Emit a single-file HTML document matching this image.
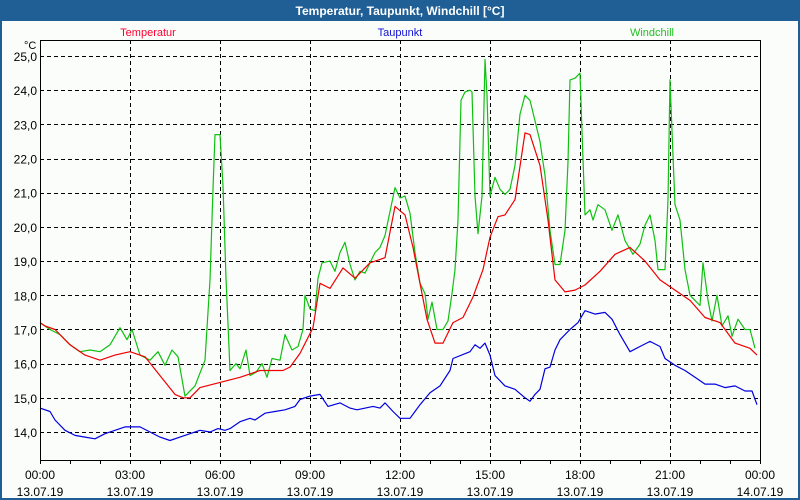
<!DOCTYPE html>
<html><head><meta charset="utf-8"><style>
body{margin:0;background:#fff;}
#wrap{width:800px;height:500px;position:relative;overflow:hidden;}
svg text{font-family:"Liberation Sans",sans-serif;}
</style></head><body>
<div id="wrap">
<svg id="chart" width="800" height="500" xmlns="http://www.w3.org/2000/svg">
<rect x="0" y="0" width="800" height="500" fill="#1f5f95"/>
<rect x="2" y="21" width="796" height="477" fill="#fbfdfb"/>
<text x="400" y="15" text-anchor="middle" fill="#fff" font-size="12" font-weight="bold">Temperatur, Taupunkt, Windchill [°C]</text>
<text x="148" y="36" text-anchor="middle" fill="#ff0030" font-size="11">Temperatur</text>
<text x="400" y="36" text-anchor="middle" fill="#1010d0" font-size="11">Taupunkt</text>
<text x="652" y="36" text-anchor="middle" fill="#20c020" font-size="11">Windchill</text>
<text x="24" y="49" font-size="11" fill="#000">°C</text>
<g id="grid"></g>
<g id="series"></g>
<rect x="40.5" y="40.5" width="720" height="420" fill="none" stroke="#000" stroke-width="1"/>
<g id="axes"></g>
</svg>
</div>
<script>
const yTicks=[14,15,16,17,18,19,20,21,22,23,24,25];
const xTickMinutes=[0,180,360,540,720,900,1080,1260,1440];
const xTickTimes=["00:00","03:00","06:00","09:00","12:00","15:00","18:00","21:00","00:00"];
const xTickDates=["13.07.19","13.07.19","13.07.19","13.07.19","13.07.19","13.07.19","13.07.19","13.07.19","14.07.19"];

const tempMinutes=[0,10,30,60,90,120,150,180,210,240,270,286,300,320,360,400,440,486,500,520,546,560,580,606,630,660,690,710,730,746,774,790,806,826,846,866,886,900,916,930,950,970,980,1000,1016,1030,1050,1070,1090,1120,1150,1180,1210,1240,1270,1300,1330,1360,1390,1420,1434];
const tempValues=[17.2,17.1,17.0,16.55,16.25,16.1,16.25,16.35,16.2,15.65,15.1,15.0,15.0,15.3,15.45,15.6,15.8,15.8,15.9,16.3,17.05,18.35,18.2,18.8,18.5,18.95,19.1,20.6,20.35,19.4,17.3,16.6,16.6,17.2,17.35,17.95,18.75,19.7,20.3,20.35,20.8,22.75,22.7,21.8,20.2,18.45,18.1,18.15,18.3,18.7,19.2,19.4,19.0,18.45,18.15,17.85,17.35,17.2,16.6,16.45,16.25];

const wcMinutes=[0,20,40,60,80,100,120,140,160,174,184,200,220,236,250,264,276,290,310,330,340,346,350,360,366,372,380,392,400,412,420,432,444,454,464,480,490,504,516,526,530,540,550,556,564,580,590,600,610,620,630,640,650,670,680,690,710,720,730,740,750,760,770,776,784,794,806,816,824,830,836,842,850,860,864,870,876,884,890,894,900,910,920,930,940,950,960,970,980,990,1000,1010,1020,1030,1040,1050,1056,1060,1070,1080,1084,1090,1100,1106,1116,1130,1144,1156,1170,1186,1200,1210,1220,1230,1236,1250,1256,1260,1264,1270,1280,1290,1300,1310,1320,1326,1336,1344,1354,1364,1376,1384,1396,1410,1420,1430];
const wcValues=[17.2,17.0,16.85,16.55,16.35,16.4,16.35,16.55,17.05,16.7,17.0,16.25,16.1,16.35,15.95,16.4,16.2,15.05,15.35,16.1,18.45,21.1,22.7,22.7,21.2,18.5,15.8,16.0,15.85,16.4,15.65,15.75,16.0,15.6,16.15,16.1,16.85,16.4,16.5,17.0,18.0,17.6,17.55,18.5,18.95,19.0,18.7,19.25,19.55,18.9,18.45,18.7,18.65,19.25,19.4,19.75,21.15,20.85,20.9,20.4,19.25,18.35,18.05,17.3,17.8,17.0,17.0,17.25,18.05,18.75,20.2,23.7,23.95,24.0,23.95,20.9,19.8,20.9,24.9,23.85,20.9,21.45,21.1,20.95,21.1,21.8,23.3,23.85,23.7,23.1,22.5,21.5,19.9,18.9,18.9,19.9,21.9,24.3,24.35,24.5,22.8,20.35,20.5,20.2,20.65,20.5,19.9,20.35,19.6,19.2,19.5,20.05,20.35,19.6,18.75,18.75,20.8,24.3,22.8,20.65,20.2,18.75,18.0,17.85,17.7,18.95,17.85,17.25,18.0,17.1,17.4,16.8,17.3,17.0,17.0,16.45];

const dpMinutes=[0,20,30,50,70,90,110,130,150,170,200,220,240,260,280,300,320,340,356,370,380,400,420,430,450,470,490,510,520,540,560,576,600,620,634,666,680,690,706,720,740,750,760,780,800,820,826,860,870,880,890,900,910,930,950,970,980,990,1000,1010,1020,1030,1040,1060,1076,1090,1110,1130,1144,1160,1180,1200,1220,1240,1250,1270,1290,1310,1330,1350,1370,1390,1410,1424,1434];
const dpValues=[14.7,14.6,14.35,14.05,13.9,13.85,13.8,13.95,14.05,14.15,14.15,14.0,13.85,13.75,13.85,13.95,14.05,14.0,14.1,14.05,14.1,14.3,14.4,14.35,14.55,14.6,14.65,14.75,14.95,15.05,15.1,14.75,14.85,14.7,14.65,14.75,14.7,14.85,14.6,14.4,14.4,14.6,14.8,15.15,15.35,15.8,16.15,16.35,16.55,16.45,16.6,16.25,15.65,15.35,15.25,15.0,14.9,15.1,15.25,15.85,15.9,16.4,16.7,17.0,17.2,17.55,17.45,17.5,17.3,16.85,16.35,16.5,16.65,16.5,16.15,15.95,15.8,15.6,15.4,15.4,15.3,15.35,15.2,15.2,14.8];

const X0=40,X1=760,Y0=460,Y1=40;
function xs(m){return X0+(X1-X0)*m/1440;}
function ys(v){return 432-(v-14)*(432-56)/11;}
const NS="http://www.w3.org/2000/svg";
function mk(tag,attrs,parent){const e=document.createElementNS(NS,tag);for(const k in attrs)e.setAttribute(k,attrs[k]);parent.appendChild(e);return e;}
const grid=document.getElementById('grid'),axes=document.getElementById('axes'),series=document.getElementById('series');
yTicks.forEach(v=>{
  const y=Math.round(ys(v))+0.5;
  const l=mk('line',{x1:X0,x2:X1,y1:y,y2:y,stroke:'#000','stroke-dasharray':'4,3'},grid);
  
  
  const t=mk('text',{x:37,y:ys(v)+5,'text-anchor':'end','font-size':'12',fill:'#000'},axes);
  t.textContent=v.toFixed(1).replace('.',',');
  
  
});
xTickMinutes.forEach((m,i)=>{
  const x=Math.round(xs(m))+0.5;
  if(i>0&&i<xTickMinutes.length-1){
    const l=mk('line',{x1:x,x2:x,y1:Y1,y2:Y0,stroke:'#000','stroke-dasharray':'4,3'},grid);
    
    
  }
  const t=mk('text',{x:xs(m),y:479,'text-anchor':'middle','font-size':'12',fill:'#000'},axes);
  t.textContent=xTickTimes[i];
  
  
  const d=mk('text',{x:xs(m),y:496,'text-anchor':'middle','font-size':'12',fill:'#000'},axes);
  d.textContent=xTickDates[i];
  
  
});
for(let h=0;h<=24;h++){
  const x=Math.round(xs(h*60))+0.5;
  const l=mk('line',{x1:x,x2:x,y1:Y0,y2:Y0+4,stroke:'#000'},axes);
  
  
}
function line(ms,vs,color,name){
  const pts=ms.map((m,i)=>xs(m).toFixed(1)+','+ys(vs[i]).toFixed(1)).join(' ');
  const p=mk('polyline',{points:pts,fill:'none',stroke:color,'stroke-width':'1.2','stroke-linejoin':'round'},series);
  
  
}
line(dpMinutes,dpValues,'#0000e0','taupunkt-line');
line(wcMinutes,wcValues,'#10c010','windchill-line');
line(tempMinutes,tempValues,'#f00000','temperatur-line');
</script>
</body></html>
